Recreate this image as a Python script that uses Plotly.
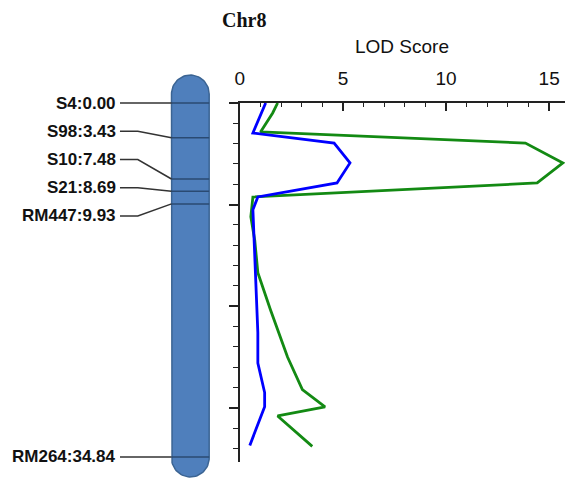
import numpy as np
import plotly.graph_objects as go

# ---------------- data ----------------
markers = ["S4", "S98", "S10", "S21", "RM447", "RM264"]
marker_cm = [0.00, 3.43, 7.48, 8.69, 9.93, 34.84]

blue_cm = [0, 2.95, 3.94, 5.9, 7.87, 9.25, 10.5, 17.7, 22.6, 25.6, 28.5, 29.9, 33.7]
blue_lod = [1.25, 0.63, 4.57, 5.34, 4.71, 0.87, 0.63, 0.77, 0.87, 0.87, 1.2, 1.2, 0.48]

green_cm = [0, 0.98, 2.85, 3.94, 5.9, 7.87, 9.25, 11.2, 13.5, 16.7, 20.4, 25.0, 28.2, 29.9, 30.8, 33.8]
green_lod = [1.83, 1.59, 1.0, 13.85, 15.67, 14.42, 0.63, 0.53, 0.72, 0.87, 1.49, 2.31, 3.03, 4.13, 1.83, 3.51]

lod_ticks = [0, 5, 10, 15]
chrom_name = "Chr8"

# ---------------- layout geometry ----------------
W, H = 565, 485
PX_PER_CM = 10.16
Y0_PX = 103            # pixel of 0 cM
YAX_BOTTOM_PX = 462
XAX_LEFT_PX = 237
PX_PER_LOD = 20.8

SANS = "Liberation Sans, Arial, sans-serif"

def py(px):
    return 1 - px / H

fig = go.Figure()

# ---------- chromosome (x2 in pixel-like units, y2 in cM) ----------
chr_left, chr_right = 168, 206
chr_top_cm = (75 - Y0_PX) / PX_PER_CM
chr_bot_cm = (477 - Y0_PX) / PX_PER_CM
rx = (chr_right - chr_left) / 2
ry = rx / PX_PER_CM
cx = (chr_left + chr_right) / 2
t = np.linspace(0, np.pi, 40)
top_x = cx + rx * np.cos(t)
top_y = (chr_top_cm + ry) - ry * np.sin(t)
bot_x = cx - rx * np.cos(t)
bot_y = (chr_bot_cm - ry) + ry * np.sin(t)
poly_x = np.concatenate([top_x, bot_x, top_x[:1]])
poly_y = np.concatenate([top_y, bot_y, top_y[:1]])
fig.add_trace(go.Scatter(x=poly_x, y=poly_y, xaxis="x2", yaxis="y2", mode="lines",
                         fill="toself", fillcolor="#4F7FBC",
                         line=dict(color="#3B6493", width=1.5),
                         hoverinfo="skip", showlegend=False))

# marker bands
for cm in marker_cm:
    fig.add_trace(go.Scatter(x=[chr_left, chr_right], y=[cm, cm], xaxis="x2", yaxis="y2",
                             mode="lines", line=dict(color="#2A4A72", width=1.5),
                             hoverinfo="skip", showlegend=False))

# label positions: spread clustered labels evenly
gap = 2.78
label_cm = []
for i, cm in enumerate(marker_cm):
    if i > 0 and cm - marker_cm[i - 1] < 5:
        label_cm.append(label_cm[-1] + gap)
    else:
        label_cm.append(cm)

for name, cm, lcm in zip(markers, marker_cm, label_cm):
    fig.add_trace(go.Scatter(x=[116, 134, chr_left], y=[lcm, lcm, cm], xaxis="x2", yaxis="y2",
                             mode="lines", line=dict(color="#333333", width=1.5),
                             hoverinfo="skip", showlegend=False))
    fig.add_annotation(x=114, y=lcm, xref="x2", yref="y2", xanchor="right", yanchor="middle",
                       text=f"{name}:{cm:.2f}", showarrow=False,
                       font=dict(family=SANS, size=17, color="#111111", weight="bold"))

# ---------- LOD curves ----------
fig.add_trace(go.Scatter(x=green_lod, y=green_cm, mode="lines",
                         line=dict(color="#138A13", width=2.8), showlegend=False, cliponaxis=False))
fig.add_trace(go.Scatter(x=blue_lod, y=blue_cm, mode="lines",
                         line=dict(color="#0000FF", width=2.8), showlegend=False, cliponaxis=False))

x_max = (W - XAX_LEFT_PX) / PX_PER_LOD
y_max = (YAX_BOTTOM_PX - Y0_PX) / PX_PER_CM

fig.update_layout(
    width=W, height=H,
    margin=dict(l=0, r=0, t=0, b=0),
    paper_bgcolor="white", plot_bgcolor="white",
    xaxis=dict(domain=[XAX_LEFT_PX / W, 1], range=[0, x_max], side="top", anchor="y",
               tickvals=lod_ticks, ticks="inside", ticklen=8, tickwidth=1.5, tickcolor="#222",
               showline=True, linecolor="#222", linewidth=1.5, showgrid=False, zeroline=False,
               tickfont=dict(family=SANS, size=19, color="#111"), ticklabelstandoff=9,
               minor=dict(dtick=1, ticks="inside", ticklen=4, tickwidth=1.2, tickcolor="#222",
                          showgrid=False)),
    yaxis=dict(domain=[py(YAX_BOTTOM_PX), py(Y0_PX)], range=[y_max, 0], anchor="x",
               showline=True, linecolor="#222", linewidth=1.5, showgrid=False, zeroline=False,
               ticks="outside", dtick=10, tick0=0, ticklen=9, tickwidth=1.5, tickcolor="#222",
               showticklabels=False,
               minor=dict(dtick=2, ticks="outside", ticklen=5, tickwidth=1.2, tickcolor="#222",
                          showgrid=False)),
    xaxis2=dict(domain=[0, XAX_LEFT_PX / W], range=[0, XAX_LEFT_PX], visible=False, anchor="y2"),
    yaxis2=dict(domain=[0, 1], range=[(H - Y0_PX) / PX_PER_CM, -Y0_PX / PX_PER_CM],
                visible=False, anchor="x2"),
)

fig.add_annotation(x=241 / W, y=py(20), xref="paper", yref="paper", text=chrom_name,
                   showarrow=False, xanchor="center", yanchor="middle",
                   font=dict(family="Liberation Serif, serif", size=20, color="#111", weight="bold"))
fig.add_annotation(x=401 / W, y=py(46), xref="paper", yref="paper", text="LOD Score",
                   showarrow=False, xanchor="center", yanchor="middle",
                   font=dict(family=SANS, size=19, color="#111"))

fig.write_html("out.html")
